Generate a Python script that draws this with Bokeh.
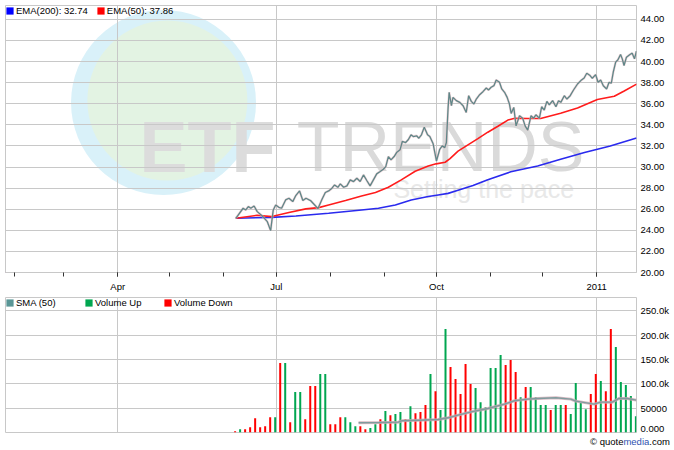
from bokeh.plotting import figure
from bokeh.layouts import column
from bokeh.models import (Range1d, FixedTicker, Legend, LegendItem, Label, Div,
                          PrintfTickFormatter, ColumnDataSource, Grid)
from bokeh.embed import file_html
from bokeh.resources import INLINE
import numpy as np

# ---------------- data (x = days since 2010-01-01) ----------------
MONTH_TICKS = [31, 59, 90, 120, 151, 181, 212, 243, 273, 304, 334, 365]
QUARTER_TICKS = [90, 181, 273, 365]
QUARTER_LABELS = ["Apr", "Jul", "Oct", "2011"]
PRICE_TICKS = [20, 22, 24, 26, 28, 30, 32, 34, 36, 38, 40, 42, 44]
VOL_TICKS = [0, 50, 100, 150, 200, 250]            # thousands
VOL_TICK_LABELS = ["0.000", "50000", "100.0k", "150.0k", "200.0k", "250.0k"]

price_day = [157.8, 162.0, 163.5, 165.0, 166.4, 168.3, 170.1, 173.0, 175.9, 177.8,
             179.3, 180.7, 182.5, 184.1, 186.4, 188.3, 190.5, 192.1, 194.4, 196.3,
             198.1, 200.7, 203.1, 205.0, 207.3, 209.2, 211.1, 213.0, 214.5, 216.4,
             217.8, 219.7, 221.6, 223.5, 225.4, 227.3, 229.2, 231.1, 233.0, 234.9,
             236.8, 238.7, 240.7, 242.5, 243.9, 245.4, 246.9, 248.7, 250.1, 252.1,
             253.4, 255.3, 256.8, 258.4, 259.7, 261.6, 262.9, 264.4, 266.0, 267.9,
             269.2, 271.1, 273.0, 274.9, 276.3, 277.8, 278.7, 279.7, 280.3, 281.6,
             282.5, 284.4, 286.4, 288.3, 290.1, 291.5, 293.0, 294.5, 295.9, 297.8,
             299.7, 301.6, 302.9, 304.4, 306.0, 307.3, 309.2, 310.5, 312.1, 313.6,
             314.9, 315.9, 317.4, 318.7, 320.7, 322.5, 323.9, 325.4, 327.3, 328.8,
             330.1, 332.1, 333.4, 334.9, 336.4, 337.8, 339.7, 341.6, 343.1, 344.4,
             346.4, 347.9, 349.8, 351.7, 354.0, 355.9, 357.8, 359.3, 361.2, 362.5,
             364.4, 365.8, 367.3, 368.8, 370.7, 372.1, 373.4, 374.5, 375.9, 377.2,
             378.7, 379.7, 380.7, 382.1, 384.1, 385.4, 386.7, 387.8]
price_val = [25.14, 26.09, 25.93, 26.25, 26.09, 26.30, 25.77, 25.36, 24.82, 23.97,
             25.93, 26.40, 26.18, 26.09, 26.88, 27.04, 26.72, 27.26, 27.73, 26.82,
             27.04, 26.82, 26.40, 26.06, 26.94, 27.58, 27.73, 27.99, 28.30, 28.08,
             28.40, 28.08, 28.21, 28.78, 28.62, 28.94, 28.62, 29.25, 28.72, 28.21,
             28.78, 29.35, 29.57, 29.79, 30.04, 30.99, 30.68, 30.99, 31.37, 31.63,
             32.42, 32.32, 32.58, 33.05, 32.89, 32.96, 32.73, 33.05, 33.78, 33.05,
             32.89, 32.20, 30.57, 31.68, 32.00, 31.84, 32.32, 35.65, 37.08, 35.81,
             36.60, 36.29, 36.13, 35.81, 35.17, 36.76, 36.22, 35.97, 36.44, 36.86,
             37.14, 37.49, 37.30, 37.56, 37.71, 38.25, 38.03, 37.40, 37.08, 36.60,
             35.97, 35.08, 35.65, 33.90, 34.86, 34.63, 33.90, 33.49, 34.86, 34.63,
             34.95, 34.63, 35.71, 35.40, 36.22, 35.90, 36.29, 35.71, 36.29, 36.13,
             36.76, 36.44, 36.76, 37.30, 37.87, 38.19, 38.44, 38.89, 38.67, 38.41,
             38.76, 38.03, 38.25, 37.71, 37.40, 38.03, 37.94, 38.98, 39.94, 40.16,
             40.67, 40.25, 39.62, 40.41, 40.67, 40.79, 40.25, 40.98]

ema50_day = [157.8, 170.0, 178.5, 188.3, 198.0, 205.4, 211.1, 220.8, 230.0, 238.0,
             245.4, 252.8, 260.8, 268.3, 272.8, 278.0, 280.8, 285.4, 291.1, 296.8,
             302.5, 308.3, 314.0, 318.0, 325.4, 332.8, 344.3, 354.0, 365.4, 375.1,
             380.8, 387.9]
ema50_val = [25.14, 25.42, 25.30, 25.68, 26.03, 26.15, 26.40, 26.82, 27.26, 27.58,
             28.08, 28.78, 29.60, 30.10, 30.30, 30.45, 30.80, 31.50, 32.10, 32.69,
             33.30, 33.86, 34.45, 34.62, 34.60, 34.60, 35.10, 35.60, 36.40, 36.70,
             37.20, 37.86]

ema200_day = [157.8, 178.5, 192.3, 211.1, 230.0, 239.7, 249.4, 258.5, 268.3, 274.0,
              279.7, 285.4, 294.0, 302.5, 315.7, 331.1, 344.3, 358.0, 372.8, 387.9]
ema200_val = [25.14, 25.23, 25.36, 25.61, 25.93, 26.09, 26.40, 26.88, 27.20, 27.35,
              27.50, 27.80, 28.25, 28.80, 29.55, 30.10, 30.73, 31.37, 32.00, 32.74]

vol_first_day, vol_last_day = 157.4, 387.5
volume_k = [2.7, 6.9, 6.9, 11, 29.5, 11, 13, 31.6, 31.6, 142.7,
            142.7, 21.3, 83, 83, 27.4, 95.4, 95.4, 120, 120, 17,
            17, 31.6, 31.6, 21.3, 13, 13, 6.9, 9, 17, 27.4,
            44, 35.7, 37.8, 41.9, 27.4, 54.2, 39.8, 41.9, 56.3, 120,
            85, 46, 212.7, 134.5, 109.8, 78.9, 140.7, 99.5, 91.3, 62.4,
            52.1, 132.5, 132.5, 159.2, 138.6, 148.9, 124.2, 72.7, 93.3, 93.3,
            72.7, 56.3, 56.3, 46, 56.3, 56.3, 56.3, 37.8, 101.6, 60.4,
            48, 78.9, 120, 105.8, 85, 212.7, 175.8, 103.7, 97.5, 74.9,
            33.6]
volume_dir = list("DUDDDDDDUD" "UDUUDDDUUD" "DDUUUDDUUD" "UDUUDUDDDU"
                  "DUUDDDDDUU" "UUUUDDDUDU" "UUUDUUDUUU" "UDDUDDUUUU" "U")

sma_day = [228.3, 240.0, 251.1, 253.0, 263.0, 274.0, 279.7, 285.4, 293.0, 302.5,
           312.1, 317.8, 325.4, 331.1, 341.6, 350.1, 353.0, 363.5, 367.3, 374.0,
           377.8, 382.5, 387.8]
sma_val = [19.9, 20.5, 21.3, 24.0, 25.3, 26.7, 30.2, 35.7, 42.5, 49.4,
           58.3, 65.2, 68.6, 70.0, 71.3, 68.6, 64.5, 58.3, 62.4, 62.4,
           70.0, 70.0, 66.5]

# ---------------- styling ----------------
FONT = "Liberation Sans"
GRID = "#c8c8c8"
UP, DOWN = "#00a650", "#ff0000"
X_START, X_END = 25.57, 387.86

x_range = Range1d(X_START, X_END)

p1 = figure(width=672, height=295, x_range=x_range, y_range=Range1d(20, 45.31),
            output_backend="svg", toolbar_location=None, y_axis_location="right",
            min_border_left=5, min_border_right=33, min_border_top=5, min_border_bottom=23,
            background_fill_color="white", border_fill_color="white",
            outline_line_color=GRID, outline_line_width=1)

# watermark
p1.scatter(x=[116.3], y=[36.11], size=185, fill_color="#d9f1f9", line_color=None, level="image")
p1.scatter(x=[118.5], y=[36.3], size=160, fill_color="#e3f3e3", line_color=None, level="image")
p1.add_layout(Label(x=102.5, y=31.94, text="ETF", text_font=FONT, text_font_size="72px",
                    text_font_style="bold", text_color="#dcdcdc", text_baseline="alphabetic",
                    level="image"))
p1.add_layout(Label(x=192.8, y=31.94, text="TRENDS", text_font=FONT, text_font_size="70px",
                    text_color="#dadada", text_baseline="alphabetic", level="image"))
p1.add_layout(Label(x=248.3, y=27.96, text="Setting the pace", text_font=FONT,
                    text_font_size="25px", text_color="#e8e8e8", text_baseline="alphabetic",
                    level="image"))

p1.line(ema200_day, ema200_val, line_color="#2a2aee", line_width=1.6)
p1.line(ema50_day, ema50_val, line_color="#ff1c1c", line_width=1.6)
p1.line(price_day, price_val, line_color="#e4b8c0", line_width=2.4, line_alpha=0.6)
p1.line(price_day, price_val, line_color="#5f8788", line_width=1.3)

# legend swatches (single invisible point left of the visible range)
d_blue = p1.vbar(x=[X_START - 50], top=[0], width=1, fill_color="#0000ff", line_color=None)
d_red = p1.vbar(x=[X_START - 50], top=[0], width=1, fill_color="#ff0000", line_color=None)
leg1 = Legend(items=[LegendItem(label="EMA(200): 32.74", renderers=[d_blue]),
                     LegendItem(label="EMA(50): 37.86", renderers=[d_red])],
              location="top_left", orientation="horizontal", margin=0, padding=2,
              spacing=8, glyph_width=9, glyph_height=9, label_standoff=2,
              label_height=9, label_width=20, label_text_font=FONT,
              label_text_font_size="9.5px", label_text_color="black",
              background_fill_alpha=0, border_line_color=None)
p1.add_layout(leg1)

p1.xaxis.ticker = FixedTicker(ticks=QUARTER_TICKS, minor_ticks=MONTH_TICKS)
p1.xaxis.major_label_overrides = dict(zip(QUARTER_TICKS, QUARTER_LABELS))
p1.xaxis.major_tick_out = 4
p1.xaxis.major_tick_in = 0
p1.xaxis.minor_tick_out = 4
p1.xaxis.minor_tick_in = 0
p1.xaxis.major_tick_line_color = "#333333"
p1.xaxis.minor_tick_line_color = "#333333"
p1.xaxis.axis_line_color = GRID
p1.xaxis.major_label_standoff = 4
p1.xaxis.major_label_text_font = FONT
p1.xaxis.major_label_text_font_size = "9.5px"
p1.xaxis.major_label_text_color = "black"
p1.xgrid.ticker = FixedTicker(ticks=QUARTER_TICKS)
p1.xgrid.grid_line_color = GRID

p1.yaxis.ticker = FixedTicker(ticks=PRICE_TICKS)
p1.yaxis.formatter = PrintfTickFormatter(format="%.2f")
p1.yaxis.major_tick_out = 0
p1.yaxis.major_tick_in = 0
p1.yaxis.minor_tick_out = 0
p1.yaxis.minor_tick_in = 0
p1.yaxis.axis_line_color = None
p1.yaxis.major_label_standoff = 4
p1.yaxis.major_label_text_font = FONT
p1.yaxis.major_label_text_font_size = "9.5px"
p1.yaxis.major_label_text_color = "black"
p1.ygrid.grid_line_color = GRID

# ---------------- volume panel ----------------
p2 = figure(width=672, height=138, x_range=x_range, y_range=Range1d(0, 277.5),
            output_backend="svg", toolbar_location=None, x_axis_location=None,
            y_axis_location="right",
            min_border_left=5, min_border_right=33, min_border_top=2, min_border_bottom=1,
            background_fill_color="white", border_fill_color="white",
            outline_line_color=GRID, outline_line_width=1)

bar_day = np.linspace(vol_first_day, vol_last_day, len(volume_k))
src = ColumnDataSource(dict(x=bar_day, top=volume_k,
                            color=[UP if d == "U" else DOWN for d in volume_dir]))
bars = p2.vbar(x="x", top="top", width=1.15, fill_color="color", line_color=None, source=src)
p2.line(sma_day, sma_val, line_color="#d0a8b2", line_width=3, line_alpha=0.8)
p2.line(sma_day, sma_val, line_color="#7f9c9e", line_width=1.4)

d_sma = p2.vbar(x=[X_START - 50], top=[0], width=1, fill_color="#5a9696", line_color=None)
leg2 = Legend(items=[LegendItem(label="SMA (50)", renderers=[d_sma]),
                     LegendItem(label="Volume Up", renderers=[bars], index=volume_dir.index("U")),
                     LegendItem(label="Volume Down", renderers=[bars], index=volume_dir.index("D"))],
              location="top_left", orientation="horizontal", margin=0, padding=2,
              spacing=8, glyph_width=9, glyph_height=9, label_standoff=2,
              label_height=9, label_width=60, label_text_font=FONT,
              label_text_font_size="9.5px", label_text_color="black",
              background_fill_alpha=0, border_line_color=None)
p2.add_layout(leg2)

if len(p2.xgrid) == 0:
    p2.add_layout(Grid(dimension=0, ticker=FixedTicker(ticks=QUARTER_TICKS),
                       grid_line_color=GRID))
else:
    p2.xgrid.ticker = FixedTicker(ticks=QUARTER_TICKS)
    p2.xgrid.grid_line_color = GRID

p2.yaxis.ticker = FixedTicker(ticks=VOL_TICKS)
p2.yaxis.major_label_overrides = dict(zip(VOL_TICKS, VOL_TICK_LABELS))
p2.yaxis.major_tick_out = 0
p2.yaxis.major_tick_in = 0
p2.yaxis.minor_tick_out = 0
p2.yaxis.minor_tick_in = 0
p2.yaxis.axis_line_color = None
p2.yaxis.major_label_standoff = 4
p2.yaxis.major_label_text_font = FONT
p2.yaxis.major_label_text_font_size = "9.5px"
p2.yaxis.major_label_text_color = "black"
p2.ygrid.grid_line_color = GRID

credit = Div(text=('<div style="padding-left:590px;padding-top:2px;font-family:\'Liberation Sans\';'
                   'font-size:9.5px;line-height:12px;color:#000;white-space:nowrap">'
                   '&copy; quote<span style="color:#2f52b0">media</span>.com</div>'),
             width=672, height=16, margin=0)

layout = column(p1, p2, credit, spacing=0)
open("out.html", "w").write(file_html(layout, INLINE))
